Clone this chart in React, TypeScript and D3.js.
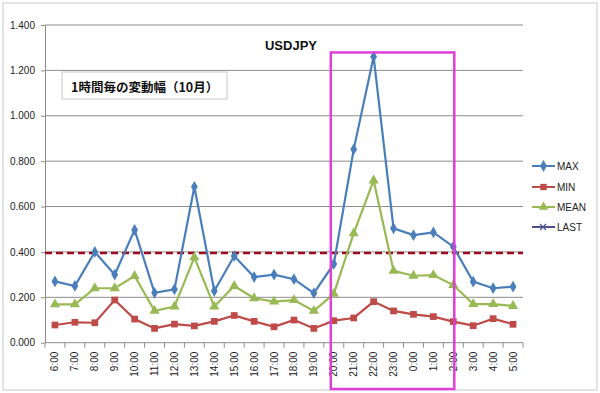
import { useEffect, useRef } from "react"
import * as d3 from "d3"

// hours on x axis
const hours = ["6:00","7:00","8:00","9:00","10:00","11:00","12:00","13:00","14:00","15:00","16:00","17:00","18:00","19:00","20:00","21:00","22:00","23:00","0:00","1:00","2:00","3:00","4:00","5:00"]

const maxVals = [0.27,0.25,0.40,0.30,0.497,0.22,0.235,0.687,0.228,0.382,0.289,0.30,0.28,0.218,0.347,0.852,1.26,0.504,0.474,0.486,0.423,0.269,0.24,0.247]
const minVals = [0.078,0.09,0.088,0.188,0.104,0.063,0.082,0.074,0.094,0.12,0.094,0.07,0.10,0.063,0.097,0.109,0.181,0.14,0.125,0.115,0.093,0.075,0.106,0.081]
const meanVals = [0.169,0.169,0.24,0.24,0.294,0.141,0.159,0.376,0.159,0.25,0.196,0.181,0.188,0.14,0.215,0.482,0.715,0.317,0.295,0.298,0.254,0.17,0.17,0.162]

const yTicks = [0, 0.2, 0.4, 0.6, 0.8, 1.0, 1.2, 1.4]
const refLine = 0.395
const highlight = ["20:00", "2:00"]
const highlightTop = 1.279

const seriesNames = ["MAX", "MIN", "MEAN", "LAST"]
const colors = { MAX: "#4a7ebb", MIN: "#be4b48", MEAN: "#98b954", LAST: "#4d4f8c" }

const App = () => {
  const ref = useRef<SVGSVGElement>(null)

  useEffect(() => {
    const width = 600
    const height = 393
    const svg = d3.select(ref.current)
    svg.selectAll("*").remove()

    const x = d3.scaleBand().domain(hours).range([45, 523]).padding(0)
    const cx = (h: string) => (x(h) as number) + x.bandwidth() / 2
    const y = d3.scaleLinear().domain([0, 1.4]).range([342.7, 25])

    // background + frame
    svg.append("rect").attr("width", width).attr("height", height).attr("fill", "#fff")
    svg.append("rect")
      .attr("x", 3).attr("y", 3).attr("width", 594).attr("height", 387)
      .attr("fill", "none").attr("stroke", "#c8c8c8")

    // gridlines
    svg.append("g")
      .selectAll("line")
      .data(yTicks.filter(d => d > 0))
      .join("line")
      .attr("x1", 45).attr("x2", 523)
      .attr("y1", d => y(d)).attr("y2", d => y(d))
      .attr("stroke", "#8c8c8c").attr("stroke-width", 1)

    // y axis
    const yAxis = svg.append("g")
      .attr("transform", "translate(45,0)")
      .call(d3.axisLeft(y).tickValues(yTicks).tickFormat(d3.format(".3f")).tickSize(4).tickSizeOuter(0))
    yAxis.select(".domain").attr("stroke", "#8c8c8c")
    yAxis.selectAll("line").attr("stroke", "#8c8c8c")
    yAxis.selectAll("text")
      .attr("font-family", "Liberation Sans, Arial, sans-serif")
      .attr("font-size", 10).attr("fill", "#222").attr("dx", "-3")

    // x axis
    const xAxisG = svg.append("g").attr("transform", `translate(0,${y(0)})`)
    xAxisG.append("line").attr("x1", 45).attr("x2", 523).attr("stroke", "#8c8c8c")
    xAxisG.selectAll("line.tk")
      .data(d3.range(hours.length + 1))
      .join("line")
      .attr("class", "tk")
      .attr("x1", i => 45 + i * x.bandwidth()).attr("x2", i => 45 + i * x.bandwidth())
      .attr("y1", 0).attr("y2", 5)
      .attr("stroke", "#8c8c8c")
    xAxisG.selectAll("text")
      .data(hours)
      .join("text")
      .attr("transform", d => `translate(${cx(d) + 3.5},9) rotate(-90)`)
      .attr("text-anchor", "end")
      .attr("font-family", "Liberation Sans, Arial, sans-serif")
      .attr("font-size", 10).attr("fill", "#222")
      .text(d => d)

    // dashed reference
    svg.append("line")
      .attr("x1", 45).attr("x2", 523)
      .attr("y1", y(refLine)).attr("y2", y(refLine))
      .attr("stroke", "#9b0a1e").attr("stroke-width", 2.5)
      .attr("stroke-dasharray", "7,4")

    const line = d3.line<number>()
      .x((d, i) => cx(hours[i]))
      .y(d => y(d))

    const drawSeries = (vals: number[], color: string, marker: string) => {
      svg.append("path")
        .attr("d", line(vals))
        .attr("fill", "none").attr("stroke", color).attr("stroke-width", 2.2)
      const sym = marker == "diamond" ? d3.symbolDiamond : marker == "square" ? d3.symbolSquare : d3.symbolTriangle
      const size = marker == "diamond" ? 40 : 45
      svg.append("g")
        .selectAll("path")
        .data(vals)
        .join("path")
        .attr("transform", (d, i) => `translate(${cx(hours[i])},${y(d)})`)
        .attr("d", d3.symbol().type(sym).size(size))
        .attr("fill", color)
    }
    drawSeries(maxVals, colors.MAX, "diamond")
    drawSeries(minVals, colors.MIN, "square")
    drawSeries(meanVals, colors.MEAN, "triangle")

    // highlight box
    const bx0 = cx(highlight[0]) - 3
    const bx1 = cx(highlight[1]) + 1
    svg.append("rect")
      .attr("x", bx0).attr("y", y(highlightTop))
      .attr("width", bx1 - bx0).attr("height", 389 - y(highlightTop))
      .attr("fill", "none").attr("stroke", "#dd3fd8").attr("stroke-width", 2.5)

    // title
    svg.append("text")
      .attr("x", 291).attr("y", 50)
      .attr("text-anchor", "middle")
      .attr("font-family", "Liberation Sans, Arial, sans-serif")
      .attr("font-weight", "bold").attr("font-size", 13).attr("fill", "#111")
      .text("USDJPY")

    // subtitle box
    svg.append("rect")
      .attr("x", 62).attr("y", 72).attr("width", 165).attr("height", 27)
      .attr("fill", "#fff").attr("stroke", "#c8c8c8")
    svg.append("text")
      .attr("x", 71).attr("y", 91.5)
      .attr("font-family", "Noto Sans CJK JP, sans-serif")
      .attr("font-weight", "bold").attr("font-size", 12.5).attr("fill", "#111")
      .text("1時間毎の変動幅（10月）")

    // legend
    const legendY = [166, 187, 207, 227]
    const lg = svg.append("g")
    seriesNames.forEach((name, i) => {
      const c = (colors as any)[name]
      const ly = legendY[i]
      lg.append("line").attr("x1", 532).attr("x2", 555).attr("y1", ly).attr("y2", ly)
        .attr("stroke", c).attr("stroke-width", 2)
      if (name == "LAST") {
        lg.append("path").attr("d", `M${540},${ly - 3}L${546},${ly + 3}M${540},${ly + 3}L${546},${ly - 3}`)
          .attr("stroke", c).attr("stroke-width", 1.2)
      } else {
        const sym = name == "MAX" ? d3.symbolDiamond : name == "MIN" ? d3.symbolSquare : d3.symbolTriangle
        lg.append("path").attr("transform", `translate(543.5,${ly})`)
          .attr("d", d3.symbol().type(sym).size(40)).attr("fill", c)
      }
      lg.append("text").attr("x", 557).attr("y", ly + 3.5)
        .attr("font-family", "Liberation Sans, Arial, sans-serif")
        .attr("font-size", 10).attr("fill", "#222")
        .text(name)
    })
  }, [])

  return (
    <div style={{ position: "fixed", left: 0, top: 0 }}>
      <svg ref={ref} width={600} height={393} style={{ display: "block" }} />
    </div>
  )
}

export default App
